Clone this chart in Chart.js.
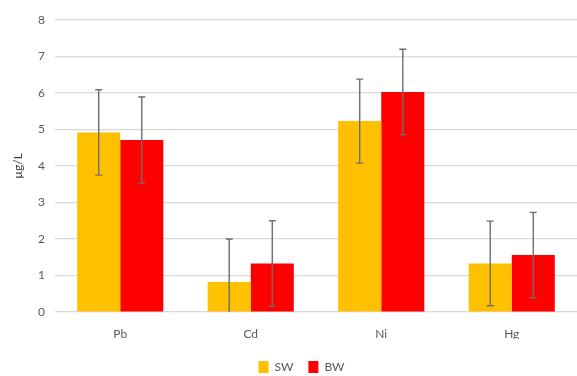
<!DOCTYPE html>
<html>
<head>
<meta charset="utf-8">
<script src="https://cdn.jsdelivr.net/npm/chart.js@4"></script>
<style>
  html, body { margin: 0; padding: 0; background: #fff; }
  #wrap { width: 577px; height: 376px; position: relative; }
</style>
</head>
<body>
<div id="wrap"><canvas id="chart"></canvas></div>
<script>
// data
const metals = ['Pb', 'Cd', 'Ni', 'Hg'];
const swValues = [4.92, 0.82, 5.23, 1.33];
const bwValues = [4.71, 1.33, 6.03, 1.56];
const swErrors = [1.17, 1.18, 1.15, 1.16];
const bwErrors = [1.18, 1.17, 1.17, 1.17];
const yTicks = [0, 1, 2, 3, 4, 5, 6, 7, 8];

const errorBars = {
  id: 'errorBars',
  afterDatasetsDraw(chart) {
    const ctx = chart.ctx;
    const y = chart.scales.y;
    const area = chart.chartArea;
    ctx.save();
    ctx.strokeStyle = '#6e6e6e';
    ctx.lineWidth = 1.4;
    chart.data.datasets.forEach((ds, di) => {
      const meta = chart.getDatasetMeta(di);
      meta.data.forEach((bar, i) => {
        const v = ds.data[i], e = ds.errors[i];
        const top = y.getPixelForValue(v + e);
        const bot = Math.min(y.getPixelForValue(v - e), area.bottom);
        ctx.beginPath();
        ctx.moveTo(bar.x, top);
        ctx.lineTo(bar.x, bot);
        ctx.moveTo(bar.x - 3.5, top);
        ctx.lineTo(bar.x + 3.5, top);
        if (bot < area.bottom) {
          ctx.moveTo(bar.x - 3.5, bot);
          ctx.lineTo(bar.x + 3.5, bot);
        }
        ctx.stroke();
      });
    });
    ctx.restore();
  }
};

// legend in the figure sits a bit right of centre and low
const shiftLegend = {
  id: 'shiftLegend',
  afterLayout(chart) {
    const lg = chart.legend;
    lg.left += 13;
    lg.right += 13;
    lg.top += 7;
    lg.bottom += 7;
  }
};

Chart.defaults.font.family = 'Lato, "Open Sans", sans-serif';
Chart.defaults.font.size = 12;
Chart.defaults.color = '#595959';

new Chart(document.getElementById('chart'), {
  type: 'bar',
  data: {
    labels: metals,
    datasets: [
      { label: 'SW', data: swValues, errors: swErrors, backgroundColor: '#ffc000' },
      { label: 'BW', data: bwValues, errors: bwErrors, backgroundColor: '#ff0000' }
    ]
  },
  options: {
    responsive: true,
    maintainAspectRatio: false,
    animation: false,
    datasets: { bar: { barPercentage: 1, categoryPercentage: 0.66 } },
    layout: { padding: { top: 20, right: 0, left: 0, bottom: 0 } },
    plugins: {
      legend: {
        position: 'bottom',
        labels: { boxWidth: 10, boxHeight: 12, padding: 15, color: '#595959', font: { size: 12 } }
      },
      tooltip: { enabled: false }
    },
    scales: {
      x: {
        grid: { display: false },
        border: { display: false },
        ticks: { padding: 7, color: '#595959' },
        afterFit: axis => { axis.height = 27; }
      },
      y: {
        min: 0,
        max: 8,
        afterBuildTicks: axis => { axis.ticks = yTicks.map(v => ({ value: v })); },
        afterFit: axis => { axis.width = 55; },
        grid: { color: '#d9d9d9', lineWidth: 1.2, drawTicks: false },
        border: { display: false },
        ticks: { padding: 10, color: '#595959' },
        title: { display: true, text: 'µg/L', color: '#404040', font: { size: 12 }, padding: { top: 11, bottom: 0 } }
      }
    }
  },
  plugins: [errorBars, shiftLegend]
});
</script>
</body>
</html>
